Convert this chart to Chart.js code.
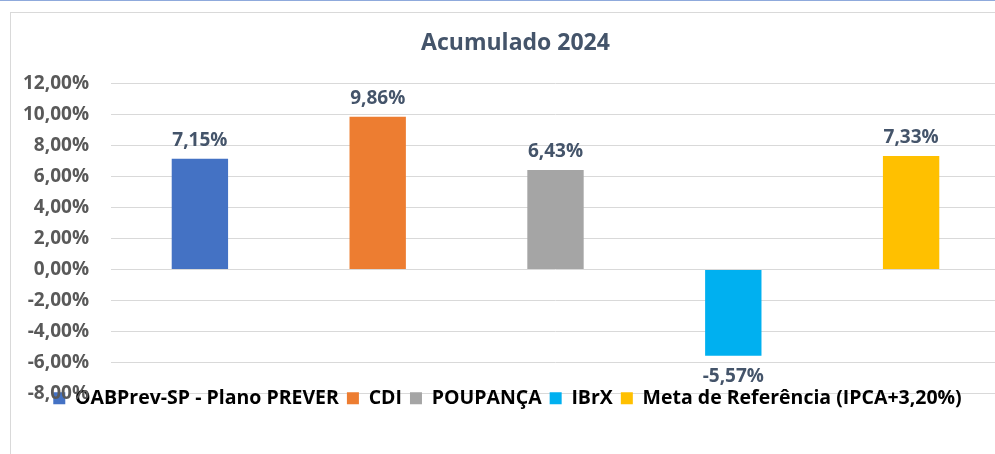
<!DOCTYPE html>
<html>
<head>
<meta charset="utf-8">
<script src="https://cdn.jsdelivr.net/npm/chart.js@4/dist/chart.umd.min.js"></script>
<style>
  html, body { margin: 0; padding: 0; background: #ffffff; overflow: hidden; width: 995px; height: 454px; }
  #topline { position: absolute; left: 0; top: 0; width: 995px; height: 1px; background: #8FAADC; }
  #frame { position: absolute; left: 10px; top: 12px; width: 1010px; height: 460px; border: 1px solid #D9D9D9; background: #fff; }
  #wrap { position: absolute; left: 11px; top: 13px; width: 1000px; height: 441px; }
</style>
</head>
<body>
<div id="topline"></div>
<div id="frame"></div>
<div id="wrap"><canvas id="c" width="1000" height="441"></canvas></div>
<script>
const titleText = 'Acumulado 2024';
const categories = ['OABPrev-SP - Plano PREVER', 'CDI', 'POUPANÇA', 'IBrX', 'Meta de Referência (IPCA+3,20%)'];
const values = [7.15, 9.86, 6.43, -5.57, 7.33];
const barColors = ['#4472C4', '#ED7D31', '#A5A5A5', '#00B0F0', '#FFC000'];
const yMin = -8, yMax = 12, yStep = 2;

const FONT = '"Open Sans", "DejaVu Sans", sans-serif';
const fmt = v => v.toFixed(2).replace('.', ',') + '%';

const valueLabels = {
  id: 'valueLabels',
  afterDatasetsDraw(chart) {
    const ctx = chart.ctx;
    const meta = chart.getDatasetMeta(0);
    ctx.save();
    ctx.font = 'bold 19px ' + FONT;
    ctx.fillStyle = '#44546A';
    ctx.textAlign = 'center';
    ctx.textBaseline = 'alphabetic';
    meta.data.forEach((bar, i) => {
      const v = values[i];
      const y = v >= 0 ? bar.y - 13 : bar.y + 26;
      ctx.fillText(fmt(v), bar.x, y);
    });
    ctx.restore();
  }
};

const layoutShift = {
  id: 'layoutShift',
  afterLayout(chart) {
    const lg = chart.legend;
    lg.top -= 13; lg.bottom -= 13;
    lg.left += 2; lg.right += 2;
    const tb = chart.titleBlock;
    if (tb) { tb.left += 10; tb.right += 10; }
  }
};

new Chart(document.getElementById('c'), {
  type: 'bar',
  data: {
    labels: categories,
    datasets: [{
      data: values,
      backgroundColor: barColors,
      borderWidth: 0,
      barPercentage: 0.317,
      categoryPercentage: 1
    }]
  },
  options: {
    responsive: false,
    animation: false,
    devicePixelRatio: 1,
    layout: { padding: { left: 0, right: 11, top: 0, bottom: 23 } },
    scales: {
      x: { display: false },
      y: {
        min: yMin, max: yMax,
        afterFit(scale) { scale.width = 100; },
        border: { display: false },
        grid: { color: '#D9D9D9', lineWidth: 1, drawTicks: false },
        ticks: {
          stepSize: yStep,
          padding: 22,
          color: '#595959',
          font: { family: FONT, size: 19, weight: 'bold' },
          callback: v => fmt(v)
        }
      }
    },
    plugins: {
      title: {
        display: true,
        text: titleText,
        color: '#44546A',
        font: { family: FONT, size: 23, weight: 'bold', lineHeight: 1.2 },
        padding: { top: 17, bottom: 26 }
      },
      legend: {
        display: true,
        position: 'bottom',
        labels: {
          boxWidth: 12,
          boxHeight: 12,
          padding: 8,
          color: '#595959',
          font: { family: FONT, size: 19.5, weight: 'bold' },
          generateLabels(chart) {
            return categories.map((c, i) => ({
              text: c,
              fillStyle: barColors[i],
              strokeStyle: barColors[i],
              lineWidth: 0,
              hidden: false,
              index: i,
              datasetIndex: 0
            }));
          }
        }
      },
      tooltip: { enabled: false }
    }
  },
  plugins: [valueLabels, layoutShift]
});
</script>
</body>
</html>
